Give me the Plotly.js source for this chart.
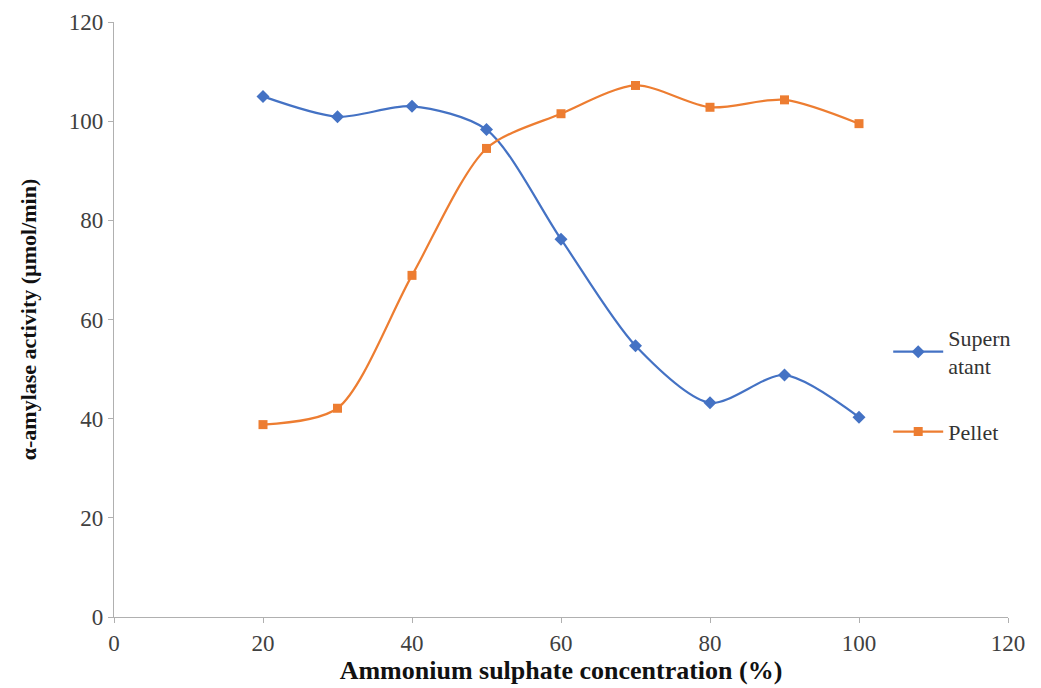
<!DOCTYPE html>
<html>
<head>
<meta charset="utf-8">
<script src="https://cdn.plot.ly/plotly-3.0.1.min.js"></script>
<style>html,body{margin:0;padding:0;background:#fff}#chart{width:1041px;height:688px}</style>
</head>
<body>
<div id="chart"></div>
<script>
const concentration = [20, 30, 40, 50, 60, 70, 80, 90, 100];
const supernatant = [105.0, 100.9, 103.0, 98.3, 76.2, 54.7, 43.2, 48.8, 40.3];
const pellet = [38.8, 42.1, 68.9, 94.5, 101.5, 107.2, 102.8, 104.3, 99.5];
const xTicks = [0, 20, 40, 60, 80, 100, 120];
const yTicks = [0, 20, 40, 60, 80, 100, 120];

const serif = "Liberation Serif";

const traces = [
  {
    x: concentration, y: supernatant, name: "Supern<br>atant",
    type: "scatter", mode: "lines+markers",
    line: {color: "#4472C4", width: 2.2, shape: "spline", smoothing: 0.8},
    marker: {symbol: "diamond", size: 10, color: "#4472C4"},
    legendgroup: "a"
  },
  {
    x: concentration, y: pellet, name: "Pellet",
    type: "scatter", mode: "lines+markers",
    line: {color: "#ED7D31", width: 2.2, shape: "spline", smoothing: 0.8},
    marker: {symbol: "square", size: 9, color: "#ED7D31"},
    legendgroup: "b"
  }
];

const layout = {
  width: 1041, height: 688,
  margin: {l: 114, r: 33, t: 22, b: 71},
  paper_bgcolor: "#fff", plot_bgcolor: "#fff",
  font: {family: serif, size: 22, color: "#404040"},
  showlegend: true,
  legend: {
    x: 0.866, y: 0.505, xanchor: "left", yanchor: "top",
    font: {family: serif, size: 22, color: "#333333"},
    itemwidth: 50,
    tracegroupgap: 34, bgcolor: "rgba(0,0,0,0)"
  },
  xaxis: {
    range: [0, 120], tickvals: xTicks, ticktext: xTicks.map(String),
    showgrid: false, zeroline: false, showline: true, linecolor: "#b0b0b0", linewidth: 1.2,
    ticks: "outside", ticklen: 5, tickcolor: "#b0b0b0",
    tickfont: {family: serif, size: 23, color: "#404040"},
    title: {text: "<b>Ammonium sulphate concentration (%)</b>", font: {family: serif, size: 26, color: "#111"}, standoff: 4}
  },
  yaxis: {
    range: [0, 120], tickvals: yTicks, ticktext: yTicks.map(String),
    showgrid: false, zeroline: false, showline: true, linecolor: "#b0b0b0", linewidth: 1.2,
    ticks: "outside", ticklen: 5, tickcolor: "#b0b0b0",
    tickfont: {family: serif, size: 23, color: "#404040"},
    title: {text: "<b>α-amylase activity (µmol/min)</b>", font: {family: serif, size: 22, color: "#111"}, standoff: 26}
  }
};

Plotly.newPlot("chart", traces, layout, {displayModeBar: false, staticPlot: true});
</script>
</body>
</html>
